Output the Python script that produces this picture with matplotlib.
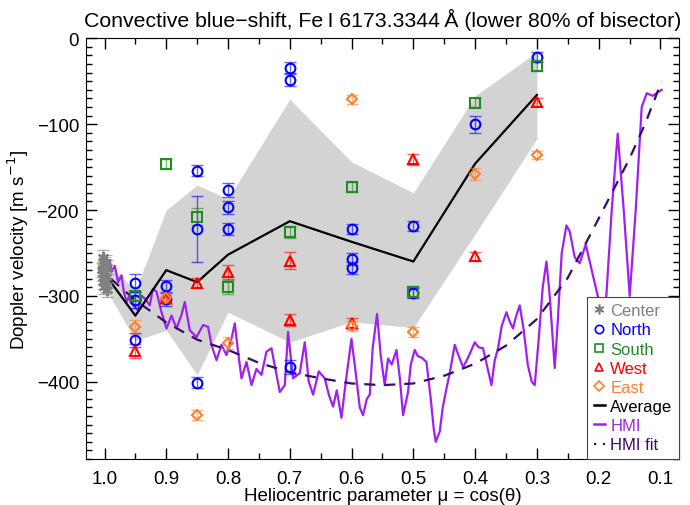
import matplotlib
matplotlib.use("Agg")
import matplotlib.pyplot as plt
from matplotlib.lines import Line2D
from matplotlib.ticker import MultipleLocator, FormatStrFormatter

plt.rcParams['font.family'] = ['Liberation Sans', 'DejaVu Sans']

# ---------------- data ----------------
center_mu = [1.003, 0.998, 1.001, 0.996, 1.004, 0.999, 1.002, 0.997, 1.000, 1.003, 0.998, 1.001, 0.996, 1.002]
center_v = [-255, -260, -263, -266, -270, -272, -275, -278, -281, -284, -287, -290, -293, -268]
center_err = [8] * len(center_mu)

north_mu = [0.95, 0.95, 0.95, 0.9, 0.9, 0.85, 0.85, 0.85, 0.8, 0.8, 0.8, 0.7, 0.7, 0.7, 0.6, 0.6, 0.6, 0.5, 0.5, 0.4, 0.3]
north_v = [-285, -305, -351, -289, -304, -154, -222, -401, -177, -197, -222, -35, -48, -383, -222, -257, -268, -219, -297, -100, -22]
north_err = [10, 9, 8, 8, 8, 6, 38, 6, 8, 8, 7, 7, 8, 8, 6, 7, 7, 6, 6, 10, 6]

south_mu = [0.95, 0.9, 0.85, 0.8, 0.7, 0.6, 0.5, 0.4, 0.3]
south_v = [-300, -146, -208, -290, -226, -173, -295, -75, -32]
south_err = [6, 6, 10, 8, 7, 6, 6, 5, 6]

west_mu = [0.95, 0.9, 0.85, 0.8, 0.7, 0.7, 0.6, 0.5, 0.4, 0.3]
west_v = [-364, -303, -285, -272, -259, -328, -332, -141, -254, -74]
west_err = [8, 6, 6, 8, 10, 7, 6, 6, 5, 5]

east_mu = [0.95, 0.9, 0.85, 0.8, 0.6, 0.6, 0.5, 0.4, 0.3]
east_v = [-336, -303, -439, -355, -71, -335, -342, -158, -136]
east_err = [8, 6, 6, 7, 5, 6, 6, 7, 5]

avg_mu = [1.0, 0.95, 0.9, 0.85, 0.8, 0.7, 0.6, 0.5, 0.4, 0.3]
avg_v = [-274, -323, -270, -284, -252, -213, -237, -260, -146, -66]
band_upper = [-259, -294, -200, -171, -187, -71, -144, -180, -67, -16]
band_lower = [-289, -352, -340, -392, -319, -354, -330, -337, -228, -117]

hmi_x_px = [106.7, 110, 111.7, 115, 118.3, 121.7, 124, 126.7, 130, 134, 138.3, 142, 145, 150, 153, 156.7,
            161.7, 166.7, 171.7, 176.7, 181.7, 185, 190, 196.7, 203.3, 208.3, 211.7, 216.7, 221.7, 226.7,
            231.7, 235, 238.3, 241.7, 246.7, 251.7, 256.7, 261.7, 266.7, 271.7, 276.7, 280, 285, 288.3,
            293.3, 300, 305, 309, 313.3, 319, 325, 329, 333.3, 337, 341.7, 346, 351.7, 356, 360, 363.3,
            367, 370, 373, 377.3, 381, 385, 388.3, 392, 396.7, 400, 403.3, 408.3, 411, 415, 418, 422,
            426.7, 431, 434, 436, 440, 443, 446.7, 450, 455, 459, 463.3, 467, 471, 475, 479, 483.3, 487,
            491.7, 495, 498.3, 502, 506.7, 510, 513.3, 516, 520, 524, 528, 532, 535, 539, 543, 546.7,
            550, 555, 558, 562, 566.7, 570, 575, 580, 586, 592, 598, 605, 612, 618, 624, 630, 636, 642,
            647, 653, 658, 662]
hmi_v = [-260, -259, -272, -265, -284, -276, -295, -307, -299, -312, -317, -300, -303, -311, -292, -295,
         -319, -338, -323, -338, -322, -307, -340, -348, -334, -336, -357, -375, -357, -369,
         -350, -332, -365, -396, -377, -404, -385, -392, -365, -361, -392, -412, -404, -342,
         -396, -390, -354, -400, -415, -388, -396, -415, -429, -410, -442, -400, -350, -390, -430, -439,
         -420, -415, -360, -321, -370, -404, -373, -380, -363, -395, -439, -412, -380, -363, -370, -372,
         -377, -420, -455, -470, -458, -430, -408, -390, -357, -370, -383, -375, -365, -354, -360, -361, -380,
         -404, -375, -361, -335, -319, -330, -338, -325, -311, -340, -380, -400, -404, -350, -290, -260,
         -300, -384, -330, -250, -218, -225, -255, -262, -240, -270, -300, -330, -200, -111, -200, -300, -200, -80,
         -64, -67, -63, -60]
# horizontal reading positions (pixels of the reference) converted into mu
hmi_mu = [1.0 - (x - 104.7) / 617.8 for x in hmi_x_px]

fit_mu = [0.99, 0.95, 0.9, 0.85, 0.8, 0.75, 0.7, 0.65, 0.6, 0.55, 0.5, 0.45, 0.4, 0.35, 0.3, 0.25,
          0.2, 0.175, 0.15, 0.125, 0.098]
fit_v = [-280, -305, -331, -351, -363, -378, -389, -396, -402, -404, -402, -393, -379, -358, -327, -279,
         -210, -175, -140, -100, -50]

# ---------------- figure ----------------
fig = plt.figure(figsize=(6.9, 5.06), dpi=100)
ax = fig.add_axes([0.1246, 0.0909, 0.8594, 0.8314])

ax.fill_between(avg_mu, band_lower, band_upper, color='#d3d3d3', lw=0, zorder=1)

c_center = '#808080'
c_north = '#0000ff'
c_south = '#228b22'
c_west = '#ff0000'
c_east = '#ff7f30'
c_hmi = '#a020f0'
c_fit = '#3c0a6e'

ax.plot(hmi_mu, hmi_v, color=c_hmi, lw=1.6, zorder=2)
ax.plot(fit_mu, fit_v, color=c_fit, lw=1.6, ls=(0, (5, 4)), zorder=3)
ax.plot(avg_mu, avg_v, color='black', lw=1.6, zorder=4)


def pts(mu, v, err, color, marker, ms):
    ax.errorbar(mu, v, yerr=err, fmt='none', ecolor=color, elinewidth=1.0, capsize=4,
                capthick=1.0, alpha=0.6, zorder=5)
    ax.plot(mu, v, ls='none', marker=marker, ms=ms, mfc='none', mec=color, mew=1.5, zorder=6)


pts(center_mu, center_v, center_err, c_center, (6, 2, 0), 8)
pts(north_mu, north_v, north_err, c_north, 'o', 7)
pts(south_mu, south_v, south_err, c_south, 's', 7)
pts(west_mu, west_v, west_err, c_west, '^', 7)
pts(east_mu, east_v, east_err, c_east, 'D', 5.5)

ax.set_xlim(1.03, 0.07)
ax.set_ylim(-490, 0)
ax.xaxis.set_major_locator(MultipleLocator(0.1))
ax.xaxis.set_minor_locator(MultipleLocator(0.05))
ax.yaxis.set_major_locator(MultipleLocator(100))
ax.yaxis.set_minor_locator(MultipleLocator(10))
ax.tick_params(which='both', direction='in', top=True, right=True, labelsize=13.5, width=1.0)
ax.tick_params(which='major', length=8)
ax.tick_params(which='minor', length=4)
ax.tick_params(axis='x', pad=8)
ax.tick_params(axis='y', pad=5)
ax.xaxis.set_major_formatter(FormatStrFormatter('%.1f'))

ax.set_title('Convective blue\u2212shift, Fe\u2009I 6173.3344\u2009Å (lower 80% of bisector)',
             fontsize=15.3, pad=9)
ax.set_xlabel('Heliocentric parameter μ = cos(θ)', fontsize=13.5, labelpad=0)
ax.set_ylabel(r'Doppler velocity [m s$^{-1}$]', fontsize=13.5, labelpad=4)

handles = [
    Line2D([], [], ls='none', marker=(6, 2, 0), ms=7, mec=c_center, mfc='none', mew=1.2),
    Line2D([], [], ls='none', marker='o', ms=6, mec=c_north, mfc='none', mew=1.2),
    Line2D([], [], ls='none', marker='s', ms=6, mec=c_south, mfc='none', mew=1.2),
    Line2D([], [], ls='none', marker='^', ms=6, mec=c_west, mfc='none', mew=1.2),
    Line2D([], [], ls='none', marker='D', ms=5, mec=c_east, mfc='none', mew=1.2),
    Line2D([], [], color='black', lw=1.8),
    Line2D([], [], color=c_hmi, lw=1.8),
    Line2D([], [], color=c_fit, lw=1.6, ls=(0, (1, 3))),
]
labels = ['Center', 'North', 'South', 'West', 'East', 'Average', 'HMI', 'HMI fit']
colors = [c_center, c_north, c_south, c_west, c_east, 'black', c_hmi, c_fit]
leg = ax.legend(handles, labels, loc='lower right', borderaxespad=0, fontsize=12,
                handlelength=0.7, handletextpad=0.3, labelspacing=0.25, borderpad=0.4,
                fancybox=False, framealpha=1, edgecolor='#444444')
leg.get_frame().set_linewidth(0.8)
for t, c in zip(leg.get_texts(), colors):
    t.set_color(c)

fig.savefig('out.png', dpi=100)
